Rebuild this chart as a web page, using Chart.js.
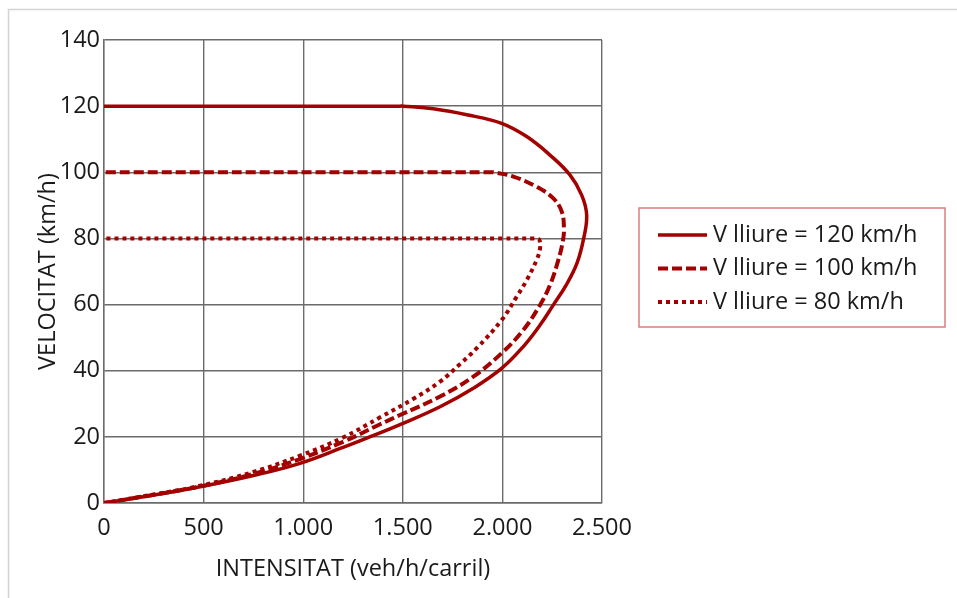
<!DOCTYPE html>
<html>
<head>
<meta charset="utf-8">
<script src="https://cdn.jsdelivr.net/npm/chart.js@4.4.1/dist/chart.umd.min.js"></script>
<style>
  html, body { margin: 0; padding: 0; background: #fff; }
  #wrap { width: 957px; height: 598px; }
</style>
</head>
<body>
<div id="wrap"><canvas id="chart" width="957" height="598"></canvas></div>
<script>
const xTickLabels = ["0", "500", "1.000", "1.500", "2.000", "2.500"];
const yTicks = [0, 20, 40, 60, 80, 100, 120, 140];

// V lliure = 120 km/h
const flow120 = [0, 250, 482, 750, 984, 1200, 1319, 1486, 1687, 1854, 1996, 2105, 2189, 2256, 2323, 2375, 2408, 2423, 2398, 2339, 2239, 2122, 1996, 1821, 1653, 1503, 1485, 1300, 0];
const speed120 = [0, 2.4, 4.9, 8.3, 12, 16.8, 19.6, 23.7, 29.1, 34.7, 40.7, 47.3, 53.8, 59.9, 66.2, 72.6, 80, 87.1, 93.1, 99.2, 105.2, 110.8, 114.8, 117.4, 119.2, 120, 120, 120, 120];

// V lliure = 100 km/h
const flow100 = [0, 250, 482, 750, 984, 1200, 1386, 1486, 1687, 1854, 1996, 2105, 2189, 2239, 2281, 2303, 2309, 2298, 2256, 2172, 2055, 1954, 1935, 1800, 0];
const speed100 = [0, 2.5, 5, 8.8, 13.3, 18.5, 23.8, 26.6, 32.2, 38.2, 45.3, 52.3, 59.9, 65.9, 73.5, 79, 83, 88.1, 92.1, 95.6, 98.7, 100, 100, 100, 100];

// V lliure = 80 km/h
const flow80 = [0, 250, 482, 750, 984, 1200, 1386, 1553, 1687, 1787, 1871, 1996, 2072, 2122, 2172, 2189, 2186, 2172, 2155, 2000, 0];
const speed80 = [0, 2.6, 5.2, 9.4, 14.3, 19.8, 25.9, 31.5, 36.7, 42, 46.8, 55.3, 62.4, 67.4, 73.5, 77, 79.5, 80, 80, 80, 80];

const seriesLabels = ["V lliure = 120 km/h", "V lliure = 100 km/h", "V lliure = 80 km/h"];

const RED = "#a30000";
const FONT = "'Open Sans', sans-serif";
const FONT_SIZE = 23.5;

function toPoints(xs, ys) {
  return xs.map((x, i) => ({ x: x, y: ys[i] }));
}

const framePlugin = {
  id: "frame",
  beforeDraw(chart) {
    const c = chart.ctx;
    c.save();
    c.fillStyle = "#fff";
    c.fillRect(0, 0, chart.width, chart.height);
    c.strokeStyle = "#d4d4d4";
    c.lineWidth = 1.5;
    c.strokeRect(8.5, 9.5, chart.width + 10, chart.height + 10);
    c.restore();
  }
};

const legendPlugin = {
  id: "boxLegend",
  afterDraw(chart) {
    const c = chart.ctx;
    const left = 639, top = 208, w = 306, h = 119;
    c.save();
    c.strokeStyle = "#dc7c7c";
    c.lineWidth = 1.5;
    c.strokeRect(left, top, w, h);
    c.font = FONT_SIZE + "px " + FONT;
    c.textBaseline = "middle";
    c.fillStyle = "#1a1a1a";
    chart.data.datasets.forEach((ds, i) => {
      const y = 235 + i * 33.5;
      c.beginPath();
      c.strokeStyle = ds.borderColor;
      c.lineWidth = ds.borderWidth;
      c.setLineDash(ds.borderDash || []);
      c.moveTo(658, y);
      c.lineTo(707, y);
      c.stroke();
      c.setLineDash([]);
      c.fillText(ds.label, 713, y);
    });
    c.restore();
  }
};

new Chart(document.getElementById("chart"), {
  type: "scatter",
  data: {
    datasets: [
      {
        label: seriesLabels[0],
        data: toPoints(flow120, speed120),
        borderColor: RED,
        borderWidth: 3.5,
        borderDash: []
      },
      {
        label: seriesLabels[1],
        data: toPoints(flow100, speed100),
        borderColor: RED,
        borderWidth: 4,
        borderDash: [10, 4]
      },
      {
        label: seriesLabels[2],
        data: toPoints(flow80, speed80),
        borderColor: RED,
        borderWidth: 4,
        borderDash: [4, 4]
      }
    ].map((ds) => Object.assign(ds, {
      showLine: true,
      tension: 0.4,
      pointRadius: 0,
      pointHoverRadius: 0,
      fill: false
    }))
  },
  options: {
    responsive: false,
    animation: false,
    layout: { padding: { left: 0, top: 40, right: 355, bottom: 0 } },
    plugins: {
      legend: { display: false },
      tooltip: { enabled: false }
    },
    scales: {
      x: {
        type: "linear",
        min: 0,
        max: 2500,
        afterFit: (scale) => { scale.height = 95; },
        afterBuildTicks: (scale) => {
          scale.ticks = xTickLabels.map((_, i) => ({ value: i * 500 }));
        },
        ticks: {
          callback: (v, i) => xTickLabels[i],
          color: "#1a1a1a",
          font: { family: FONT, size: FONT_SIZE },
          padding: 11,
          maxRotation: 0
        },
        grid: { color: "#6b6b6b", lineWidth: 1.4, drawTicks: false },
        border: { display: true, color: "#6b6b6b", width: 1.4 },
        title: {
          display: true,
          text: "INTENSITAT (veh/h/carril)",
          color: "#1a1a1a",
          font: { family: FONT, size: FONT_SIZE },
          padding: { top: 0, bottom: 15 }
        }
      },
      y: {
        type: "linear",
        min: 0,
        max: 140,
        afterFit: (scale) => { scale.width = 104; },
        afterBuildTicks: (scale) => {
          scale.ticks = yTicks.map((v) => ({ value: v }));
        },
        ticks: {
          color: "#1a1a1a",
          font: { family: FONT, size: FONT_SIZE },
          padding: 4
        },
        grid: { color: "#6b6b6b", lineWidth: 1.4, drawTicks: false },
        border: { display: true, color: "#6b6b6b", width: 1.4 },
        title: {
          display: true,
          text: "VELOCITAT (km/h)",
          color: "#1a1a1a",
          font: { family: FONT, size: FONT_SIZE },
          padding: { top: 34, bottom: 0 }
        }
      }
    }
  },
  plugins: [framePlugin, legendPlugin]
});
</script>
</body>
</html>
